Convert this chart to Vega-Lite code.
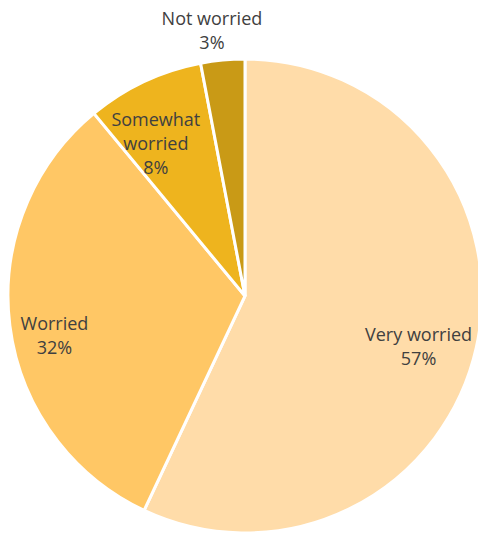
{
  "$schema": "https://vega.github.io/schema/vega-lite/v6.json",
  "width": 466,
  "height": 476,
  "autosize": "none",
  "padding": {"left": 12, "top": 58, "right": 0, "bottom": 0},
  "background": "white",
  "config": {"view": {"stroke": null}},
  "data": {
    "values": [
      {"category": "Very worried", "label": "Very worried", "value": 57, "rank": 1, "inside": true},
      {"category": "Worried", "label": "Worried", "value": 32, "rank": 2, "inside": true},
      {"category": "Somewhat worried", "label": "Somewhat\nworried", "value": 8, "rank": 3, "inside": true},
      {"category": "Not worried", "label": "Not worried", "value": 3, "rank": 4, "inside": false}
    ]
  },
  "transform": [
    {"calculate": "datum.label + '\\n' + datum.value + '%'", "as": "text"}
  ],
  "encoding": {
    "theta": {"field": "value", "type": "quantitative", "stack": true},
    "order": {"field": "rank", "type": "quantitative"}
  },
  "layer": [
    {
      "mark": {"type": "arc", "outerRadius": 237, "stroke": "white", "strokeWidth": 3},
      "encoding": {
        "color": {
          "field": "category",
          "type": "nominal",
          "legend": null,
          "scale": {
            "domain": ["Very worried", "Worried", "Somewhat worried", "Not worried"],
            "range": ["#FFDCA9", "#FFC765", "#EEB41E", "#C99A16"]
          }
        }
      }
    },
    {
      "mark": {"type": "text", "radius": {"expr": "datum.inside ? (datum.rank == 3 ? 193 : 185) : 277"}, "dx": -7, "dy": {"expr": "datum.rank == 2 ? 6 : 0"}, "font": "Open Sans", "fontSize": 18, "lineHeight": 24, "lineBreak": "\n", "fill": "#404040", "align": "center", "baseline": "middle"},
      "encoding": {"text": {"field": "text"}}
    }
  ]
}
